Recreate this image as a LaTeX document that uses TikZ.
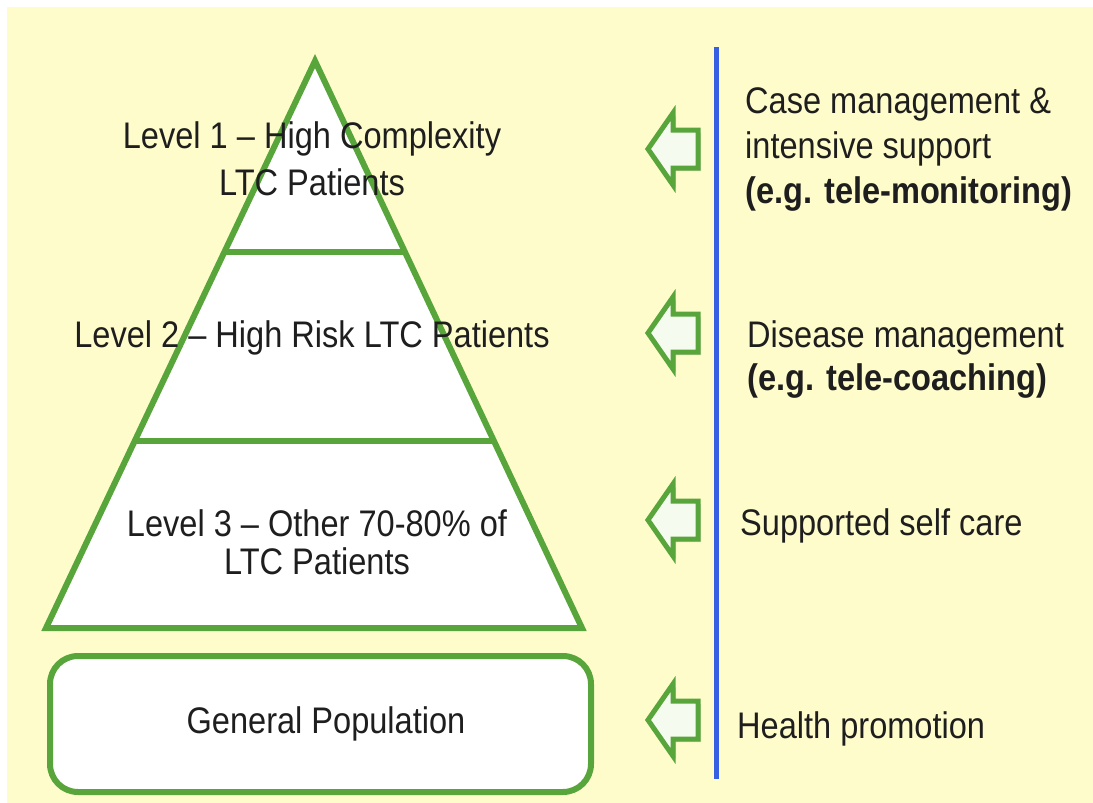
\documentclass[tikz,border=0pt]{standalone}
\usepackage{fontspec}
\setmainfont{Liberation Sans}[FakeStretch=0.88]
\usetikzlibrary{calc,shadows}
\definecolor{bgyellow}{RGB}{255,252,204}
\definecolor{pgreen}{RGB}{88,165,60}
\definecolor{pblue}{RGB}{55,95,225}
\definecolor{arrowfill}{RGB}{246,251,240}
\definecolor{inktext}{RGB}{30,30,30}
\begin{document}
\begin{tikzpicture}[x=1pt,y=-1pt,
  tier/.style={draw=pgreen,line width=6pt,fill=white,line join=miter},
  divider/.style={draw=pgreen,line width=6pt},
  lvltext/.style={font=\fontsize{37}{47}\selectfont,inner sep=0pt,align=center,anchor=base,text=inktext},
  note/.style={font=\fontsize{37}{45}\selectfont,inner sep=0pt,align=left,anchor=base west,text=inktext},
  blockarrow/.style={draw=pgreen,line width=5pt,fill=arrowfill,line join=miter,
    drop shadow={opacity=0.25,shadow xshift=3pt,shadow yshift=-3pt,fill=black!60}},
  leftarrow/.pic={\path[blockarrow] (-24,0) -- (1,-36) -- (1,-19) -- (26,-19) -- (26,19) -- (1,19) -- (1,36) -- cycle;}
]
\useasboundingbox (0,0) rectangle (1093,803);
\fill[white] (0,0) rectangle (1093,803);
\fill[bgyellow] (7,7) rectangle (1093,803);

% pyramid
\coordinate (apex) at (315,61);
\coordinate (bl) at (46,628);
\coordinate (br) at (582,628);
\path[tier] (apex) -- (bl) -- (br) -- cycle;
\draw[divider] ($(apex)!0.337!(bl)$) -- ($(apex)!0.337!(br)$);
\draw[divider] ($(apex)!0.670!(bl)$) -- ($(apex)!0.670!(br)$);

% general population
\node[draw=pgreen,line width=6pt,fill=white,rounded corners=28pt,
      minimum width=541pt,minimum height=136pt,inner sep=0pt,
      font=\fontsize{37}{45}\selectfont,text=inktext] (gp) at (320.5,724) {\hspace*{11pt}General Population};

% level labels (base anchor = baseline of last line)
\node[lvltext] (l1) at (312,195) {Level 1 – High Complexity\\LTC Patients};
\node[lvltext] (l2) at (312,347) {Level 2 – High Risk LTC Patients};
\node[lvltext,font=\fontsize{37}{38}\selectfont] (l3) at (317,574) {Level 3 – Other 70-80\% of\\LTC Patients};

% blue separator
\coordinate (stop) at (716,47);
\coordinate (sbot) at (716,779);
\draw[pblue,line width=5pt] (stop) -- (sbot);

% arrows
\pic at (672,149) {leftarrow};
\pic at (672,333) {leftarrow};
\pic at (672,520) {leftarrow};
\pic at (672,720) {leftarrow};

% right texts
\node[note] (r1) at (745,203) {Case management \&\\intensive support\\\textbf{(e.g. tele-monitoring)}};
\node[note,font=\fontsize{37}{43}\selectfont] (r2) at (747,390) {Disease management\\\textbf{(e.g. tele-coaching)}};
\node[note] (r3) at (740,535) {Supported self care};
\node[note] (r4) at (737,738) {Health promotion};
\end{tikzpicture}
\end{document}
